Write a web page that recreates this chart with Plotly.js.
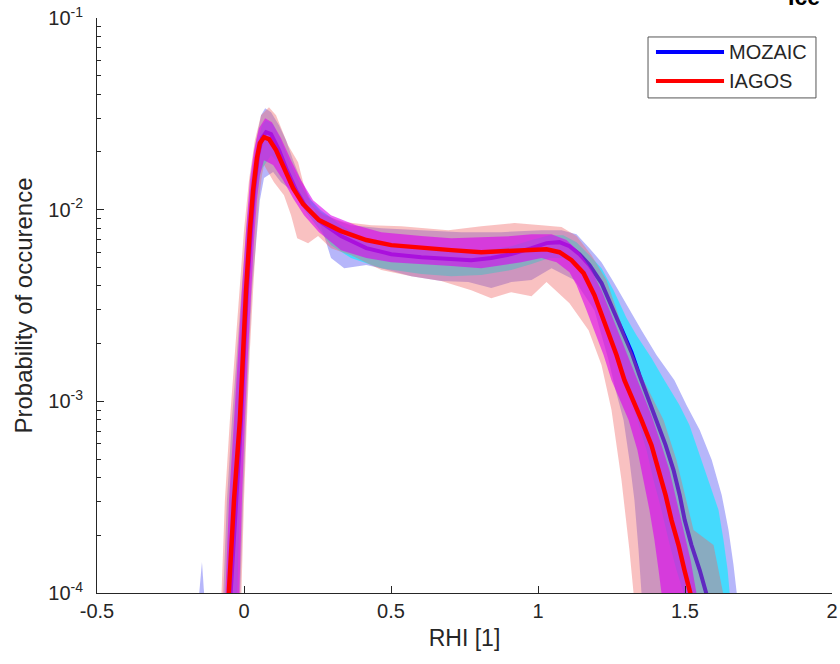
<!DOCTYPE html>
<html>
<head>
<meta charset="utf-8">
<script src="https://cdn.plot.ly/plotly-3.0.1.min.js"></script>
<style>html,body{margin:0;padding:0;background:#fff}#chart{width:840px;height:664px}</style>
</head>
<body>
<div id="chart"></div>
<script>
// ---- series names ----
const seriesNames = ['MOZAIC', 'IAGOS'];
const panelTitle = 'Ice';

// ---- median curves ----
const mozaicX = [-0.048,-0.027,-0.010,0.000,0.010,0.024,0.034,0.048,0.061,0.075,0.092,0.119,0.146,0.177,0.211,0.262,0.330,0.416,0.501,0.603,0.705,0.773,0.841,0.909,0.978,1.029,1.073,1.107,1.141,1.175,1.216,1.260,1.284,1.318,1.345,1.376,1.403,1.434,1.461,1.482,1.499,1.522,1.550,1.573,1.584];
const mozaicP = [8.6e-5,3.05e-4,7.98e-4,1.85e-3,3.80e-3,7.82e-3,1.264e-2,1.925e-2,2.361e-2,2.537e-2,2.477e-2,2.044e-2,1.608e-2,1.264e-2,1.031e-2,8.61e-3,7.28e-3,6.30e-3,5.86e-3,5.65e-3,5.52e-3,5.45e-3,5.59e-3,5.86e-3,6.30e-3,6.69e-3,6.77e-3,6.45e-3,5.86e-3,5.14e-3,4.14e-3,2.886e-3,2.35e-3,1.806e-3,1.37e-3,1.015e-3,7.98e-4,5.91e-4,4.38e-4,3.24e-4,2.40e-4,1.779e-4,1.317e-4,1.0e-4,8.6e-5];

const iagosX = [-0.054,-0.034,-0.014,-0.003,0.007,0.020,0.031,0.044,0.054,0.068,0.085,0.109,0.136,0.167,0.201,0.255,0.330,0.416,0.501,0.603,0.705,0.807,0.875,0.960,1.029,1.073,1.114,1.155,1.192,1.236,1.267,1.294,1.325,1.352,1.386,1.410,1.434,1.454,1.478,1.498,1.519,1.529];
const iagosP = [8.6e-5,3.05e-4,7.98e-4,1.85e-3,3.80e-3,7.82e-3,1.264e-2,1.857e-2,2.223e-2,2.39e-2,2.333e-2,2.044e-2,1.647e-2,1.295e-2,1.069e-2,8.82e-3,7.73e-3,6.94e-3,6.53e-3,6.38e-3,6.15e-3,6.00e-3,6.08e-3,6.22e-3,6.22e-3,6.00e-3,5.45e-3,4.665e-3,3.58e-3,2.35e-3,1.743e-3,1.29e-3,1.015e-3,7.98e-4,5.91e-4,4.38e-4,3.24e-4,2.40e-4,1.779e-4,1.317e-4,1.0e-4,8.6e-5];

// ---- MOZAIC outer band ----
const mozOutUpX = [-0.072,-0.058,-0.041,-0.024,-0.010,0.007,0.024,0.041,0.058,0.072,0.092,0.119,0.143,0.167,0.194,0.228,0.262,0.313,0.364,0.467,0.603,0.739,0.875,1.012,1.080,1.131,1.175,1.216,1.257,1.301,1.352,1.403,1.464,1.505,1.550,1.591,1.625,1.648,1.665,1.676,1.679];
const mozOutUpP = [8.6e-5,3.05e-4,7.98e-4,1.85e-3,3.80e-3,7.82e-3,1.426e-2,2.305e-2,3.11e-2,3.385e-2,3.226e-2,2.76e-2,2.305e-2,1.813e-2,1.426e-2,1.121e-2,9.71e-3,8.82e-3,8.30e-3,8.01e-3,7.82e-3,7.63e-3,7.63e-3,7.82e-3,7.82e-3,7.45e-3,6.30e-3,5.32e-3,4.19e-3,3.18e-3,2.35e-3,1.743e-3,1.29e-3,9.56e-4,7.08e-4,4.94e-4,3.24e-4,2.13e-4,1.40e-4,1.0e-4,8.6e-5];
const mozOutLoX = [-0.014,-0.003,0.007,0.017,0.027,0.041,0.054,0.068,0.099,0.126,0.184,0.238,0.272,0.296,0.341,0.416,0.467,0.569,0.671,0.763,0.841,0.909,0.978,1.046,1.124,1.192,1.216,1.240,1.264,1.291,1.311,1.328,1.342,1.352,1.356];
const mozOutLoP = [8.6e-5,3.05e-4,7.98e-4,1.85e-3,3.80e-3,6.94e-3,1.121e-2,1.461e-2,1.570e-2,1.391e-2,1.19e-2,1.018e-2,7.36e-3,5.59e-3,4.95e-3,5.14e-3,4.95e-3,4.50e-3,4.24e-3,4.19e-3,3.90e-3,4.19e-3,4.29e-3,4.95e-3,4.29e-3,2.99e-3,2.215e-3,1.641e-3,1.144e-3,7.98e-4,4.94e-4,3.05e-4,1.675e-4,1.0e-4,8.6e-5];
const mozSpikeX = [-0.156,-0.143,-0.133];
const mozSpikeP = [8.6e-5,1.45e-4,8.6e-5];

// ---- MOZAIC inner band ----
const mozInUpX = [-0.061,-0.048,-0.031,-0.017,-0.003,0.010,0.027,0.044,0.061,0.075,0.099,0.126,0.153,0.181,0.215,0.262,0.330,0.416,0.501,0.603,0.705,0.807,0.909,0.978,1.039,1.086,1.131,1.175,1.216,1.257,1.301,1.335,1.386,1.430,1.481,1.515,1.556,1.590,1.614,1.631,1.645,1.652,1.655];
const mozInUpP = [8.6e-5,3.05e-4,7.98e-4,1.85e-3,3.80e-3,7.82e-3,1.426e-2,2.171e-2,2.76e-2,2.931e-2,2.793e-2,2.305e-2,1.813e-2,1.461e-2,1.176e-2,9.94e-3,8.30e-3,6.94e-3,6.45e-3,6.22e-3,6.08e-3,6.08e-3,6.45e-3,6.94e-3,7.36e-3,7.36e-3,6.77e-3,5.79e-3,4.95e-3,3.80e-3,2.718e-3,2.215e-3,1.681e-3,1.29e-3,9.56e-4,7.52e-4,4.94e-4,3.44e-4,2.71e-4,1.889e-4,1.317e-4,1.0e-4,8.6e-5];
const mozInLoX = [-0.024,-0.014,-0.003,0.007,0.017,0.027,0.041,0.058,0.092,0.126,0.160,0.194,0.245,0.296,0.364,0.467,0.603,0.705,0.807,0.909,0.978,1.039,1.086,1.131,1.175,1.209,1.243,1.277,1.308,1.338,1.369,1.393,1.420,1.444,1.471,1.495,1.502];
const mozInLoP = [8.6e-5,3.05e-4,7.98e-4,1.85e-3,3.80e-3,6.94e-3,1.121e-2,1.608e-2,1.925e-2,1.708e-2,1.342e-2,1.056e-2,8.30e-3,6.53e-3,5.59e-3,4.95e-3,4.61e-3,4.50e-3,4.555e-3,4.84e-3,5.20e-3,5.59e-3,5.59e-3,5.075e-3,4.29e-3,3.37e-3,2.35e-3,1.641e-3,1.144e-3,7.98e-4,5.57e-4,3.88e-4,2.71e-4,1.889e-4,1.317e-4,1.0e-4,8.6e-5];

// ---- IAGOS outer band ----
const iagOutUpX = [-0.078,-0.065,-0.048,-0.031,-0.017,0.000,0.017,0.037,0.058,0.085,0.109,0.126,0.150,0.184,0.201,0.228,0.272,0.341,0.433,0.535,0.695,0.807,0.920,1.012,1.080,1.131,1.182,1.233,1.291,1.359,1.427,1.471,1.505,1.529,1.597,1.618,1.631,1.638];
const iagOutUpP = [8.6e-5,3.05e-4,7.98e-4,1.85e-3,3.80e-3,7.82e-3,1.426e-2,2.305e-2,3.11e-2,3.426e-2,3.11e-2,2.662e-2,2.171e-2,1.770e-2,1.391e-2,1.056e-2,9.36e-3,8.61e-3,8.30e-3,8.20e-3,7.82e-3,8.20e-3,8.51e-3,8.30e-3,8.11e-3,7.28e-3,5.79e-3,4.29e-3,2.35e-3,1.29e-3,7.98e-4,4.94e-4,3.05e-4,2.13e-4,1.779e-4,1.24e-4,1.0e-4,8.6e-5];
const iagOutLoX = [-0.010,0.000,0.010,0.020,0.031,0.041,0.051,0.061,0.068,0.102,0.136,0.160,0.181,0.218,0.252,0.296,0.364,0.467,0.569,0.671,0.773,0.841,0.909,0.978,1.029,1.107,1.172,1.216,1.250,1.284,1.311,1.325,1.328];
const iagOutLoP = [8.6e-5,3.05e-4,7.98e-4,1.85e-3,3.80e-3,6.94e-3,1.121e-2,1.514e-2,1.708e-2,1.391e-2,1.19e-2,9.36e-3,7.10e-3,6.69e-3,7.28e-3,6.30e-3,5.79e-3,4.84e-3,4.50e-3,4.24e-3,3.80e-3,3.455e-3,3.713e-3,3.539e-3,4.19e-3,3.253e-3,2.35e-3,1.545e-3,9.0e-4,3.88e-4,1.675e-4,1.0e-4,8.6e-5];

// ---- IAGOS inner band ----
const iagInUpX = [-0.065,-0.051,-0.034,-0.020,-0.007,0.007,0.020,0.034,0.051,0.072,0.095,0.126,0.160,0.194,0.235,0.296,0.381,0.467,0.603,0.705,0.807,0.909,0.978,1.046,1.097,1.141,1.182,1.216,1.250,1.284,1.318,1.352,1.386,1.420,1.447,1.471,1.495,1.519,1.539,1.546];
const iagInUpP = [8.6e-5,3.05e-4,7.98e-4,1.85e-3,3.80e-3,7.82e-3,1.426e-2,2.044e-2,2.662e-2,3.002e-2,2.861e-2,2.361e-2,1.813e-2,1.426e-2,1.121e-2,9.36e-3,8.30e-3,7.63e-3,7.28e-3,7.10e-3,7.19e-3,7.28e-3,7.45e-3,7.45e-3,6.94e-3,6.00e-3,4.84e-3,3.80e-3,2.817e-3,2.086e-3,1.545e-3,1.144e-3,8.47e-4,5.91e-4,4.38e-4,3.05e-4,2.13e-4,1.485e-4,1.0e-4,8.6e-5];
const iagInLoX = [-0.017,-0.007,0.003,0.014,0.024,0.034,0.044,0.054,0.068,0.099,0.133,0.167,0.204,0.255,0.330,0.416,0.501,0.603,0.705,0.807,0.875,0.943,1.012,1.063,1.107,1.131,1.165,1.192,1.223,1.250,1.280,1.308,1.338,1.359,1.379,1.396,1.410,1.420,1.424];
const iagInLoP = [8.6e-5,3.05e-4,7.98e-4,1.85e-3,3.80e-3,6.94e-3,1.121e-2,1.514e-2,1.813e-2,1.708e-2,1.426e-2,1.148e-2,9.36e-3,7.63e-3,6.15e-3,5.59e-3,5.32e-3,5.20e-3,5.075e-3,4.95e-3,5.14e-3,5.32e-3,5.59e-3,5.32e-3,4.72e-3,4.04e-3,2.99e-3,2.35e-3,1.743e-3,1.29e-3,1.015e-3,7.98e-4,5.57e-4,3.88e-4,2.71e-4,1.889e-4,1.317e-4,1.0e-4,8.6e-5];

// ---- axis ticks ----
const xTickVals = [-0.5, 0, 0.5, 1, 1.5, 2];
const xTickText = ['-0.5', '0', '0.5', '1', '1.5', '2'];
const yTickVals = [1e-4, 1e-3, 1e-2, 1e-1];
const yTickText = ['10<sup>-4</sup>', '10<sup>-3</sup>', '10<sup>-2</sup>', '10<sup>-1</sup>'];
const yMinorVals = [];
[1e-4, 1e-3, 1e-2].forEach(d => { for (let k = 2; k <= 9; k++) yMinorVals.push(k * d); });

function band(upX, upY, loX, loY, color) {
  return {
    x: upX.concat(loX.slice().reverse()),
    y: upY.concat(loY.slice().reverse()),
    type: 'scatter', mode: 'lines', fill: 'toself',
    fillcolor: color, line: {width: 0, color: color},
    hoverinfo: 'skip', showlegend: false
  };
}

const colLav = 'rgba(110,110,245,0.5)';
const colCyan = 'rgba(0,240,255,0.62)';
const colPink = 'rgba(240,100,100,0.4)';
const colMag = 'rgba(220,0,240,0.6)';
const colBlue = '#0000ff';
const colRed = '#ff0000';

const traces = [
  band(mozOutUpX, mozOutUpP, mozOutLoX, mozOutLoP, colLav),
  {x: mozSpikeX, y: mozSpikeP, type: 'scatter', mode: 'lines', fill: 'toself', fillcolor: colLav, line: {width: 0, color: colLav}, hoverinfo: 'skip', showlegend: false},
  band(mozInUpX, mozInUpP, mozInLoX, mozInLoP, colCyan),
  {x: mozaicX, y: mozaicP, type: 'scatter', mode: 'lines', name: seriesNames[0], line: {color: colBlue, width: 4}, showlegend: false},
  band(iagOutUpX, iagOutUpP, iagOutLoX, iagOutLoP, colPink),
  band(iagInUpX, iagInUpP, iagInLoX, iagInLoP, colMag),
  {x: iagosX, y: iagosP, type: 'scatter', mode: 'lines', name: seriesNames[1], line: {color: colRed, width: 4.5}, showlegend: false}
];

const fontFam = 'Liberation Sans, Arial, Helvetica, sans-serif';
const txt = '#262626';

// legend box geometry (paper coords)
const lgX0 = 0.7497, lgX1 = 0.9782, lgY0 = 0.861, lgY1 = 0.967;
const lgLineX0 = 0.7605, lgLineX1 = 0.8531, lgTextX = 0.8570;
const lgRowY = [0.941, 0.8904];

const layout = {
  width: 840, height: 664,
  margin: {l: 97, r: 8, t: 18, b: 71, pad: 0},
  paper_bgcolor: '#ffffff', plot_bgcolor: '#ffffff',
  font: {family: fontFam, color: txt, size: 20},
  showlegend: false,
  xaxis: {
    range: [-0.5, 2], tickmode: 'array', tickvals: xTickVals, ticktext: xTickText,
    ticks: 'inside', ticklen: 7, tickwidth: 1, tickcolor: txt,
    showline: true, linecolor: txt, linewidth: 1, showgrid: false, zeroline: false,
    tickfont: {size: 20, color: txt, family: fontFam},
    title: {text: 'RHI [1]', font: {size: 23, color: txt, family: fontFam}, standoff: 8}
  },
  yaxis: {
    type: 'log', range: [-4, -1], tickmode: 'array', tickvals: yTickVals, ticktext: yTickText,
    ticks: 'inside', ticklen: 7, tickwidth: 1, tickcolor: txt,
    minor: {tickmode: 'array', tickvals: yMinorVals, ticks: 'inside', ticklen: 4, tickcolor: txt, showgrid: false},
    showline: true, linecolor: txt, linewidth: 1, showgrid: false, zeroline: false,
    tickfont: {size: 20, color: txt, family: fontFam},
    ticklabelstandoff: 9,
    title: {text: 'Probability of occurence', font: {size: 24, color: txt, family: fontFam}, standoff: 8}
  },
  shapes: [
    {type: 'rect', xref: 'paper', yref: 'paper', x0: lgX0, x1: lgX1, y0: lgY0, y1: lgY1, line: {color: '#555555', width: 1}, fillcolor: '#ffffff', layer: 'above'},
    {type: 'line', xref: 'paper', yref: 'paper', x0: lgLineX0, x1: lgLineX1, y0: lgRowY[0], y1: lgRowY[0], line: {color: colBlue, width: 4}, layer: 'above'},
    {type: 'line', xref: 'paper', yref: 'paper', x0: lgLineX0, x1: lgLineX1, y0: lgRowY[1], y1: lgRowY[1], line: {color: colRed, width: 4}, layer: 'above'}
  ],
  annotations: [
    {xref: 'paper', yref: 'paper', x: lgTextX, y: lgRowY[0], xanchor: 'left', yanchor: 'middle', text: seriesNames[0], showarrow: false, font: {size: 20, color: txt, family: fontFam}},
    {xref: 'paper', yref: 'paper', x: lgTextX, y: lgRowY[1], xanchor: 'left', yanchor: 'middle', text: seriesNames[1], showarrow: false, font: {size: 20, color: txt, family: fontFam}},
    {xref: 'paper', yref: 'paper', x: 0.962, y: 1.0096, xanchor: 'center', yanchor: 'bottom', text: '<b>' + panelTitle + '</b>', showarrow: false, font: {size: 23, color: '#000000', family: fontFam}}
  ]
};

Plotly.newPlot('chart', traces, layout, {displayModeBar: false, staticPlot: true});
</script>
</body>
</html>
